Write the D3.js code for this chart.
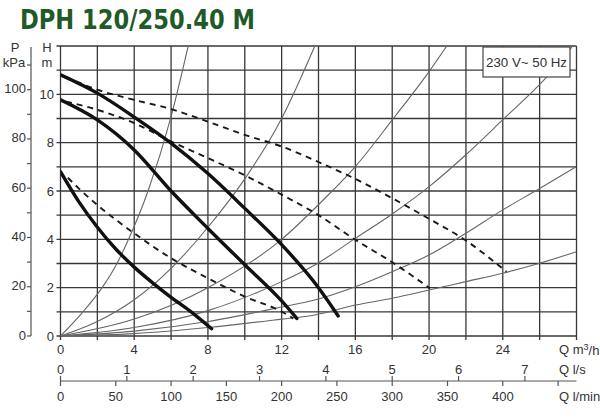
<!DOCTYPE html>
<html>
<head>
<meta charset="utf-8">
<script src="https://cdn.jsdelivr.net/npm/d3@7"></script>
<style>
  html, body { margin: 0; padding: 0; background: #fff; }
  svg { display: block; }
  text { font-family: "Liberation Sans", Arial, sans-serif; fill: #333; }
</style>
</head>
<body>
<svg id="chart" width="600" height="418"></svg>
<script>
// ---------- data ----------
const title = "DPH 120/250.40 M";
const legendText = "230 V~ 50 Hz";
const qTicks = [0, 4, 8, 12, 16, 20, 24];          // m3/h labels
const hTicks = [0, 2, 4, 6, 8, 10];                // m labels
const pTicks = [0, 20, 40, 60, 80, 100];           // kPa labels
const lsTicks = [0, 1, 2, 3, 4, 5, 6, 7];          // l/s
const lminTicks = [0, 50, 100, 150, 200, 250, 300, 350, 400]; // l/min labels
const lminExtraTicks = [450];

// pump curves (Q m3/h, H m) – solid thick
const pumpHigh = [[0,10.81],[2,10.05],[4,9.06],[6,7.98],[8,6.72],[10,5.28],[12,3.78],[14,2.0],[15.07,0.83]];
const pumpMid  = [[0,9.77],[2,8.94],[4,7.70],[6,6.0],[8,4.45],[10,2.95],[12,1.45],[12.82,0.73]];
const pumpLow  = [[0,6.8],[1,5.55],[2,4.5],[3,3.6],[4,2.85],[5,2.2],[6,1.6],[7,1.05],[8.2,0.3]];
// dashed curves
const dashHigh = [[0.3,10.72],[2,10.19],[4,9.77],[6,9.39],[8,8.87],[10,8.32],[12,7.84],[14,7.2],[16,6.5],[18,5.7],[20,4.85],[22,3.95],[24.2,2.66]];
const dashMid  = [[0.3,9.7],[2,9.36],[4,8.81],[6,8.05],[8,7.36],[10,6.65],[12,5.85],[14,5.0],[16,3.98],[18,3.05],[20.05,1.97]];
const dashLow  = [[0.4,6.55],[1,6.1],[2,5.42],[4,4.25],[6,3.22],[8,2.39],[10,1.63],[12,1.01],[12.63,0.73]];
// system curves – thin grey
const sysA = [[0,0],[1.15,0.94],[2.24,1.98],[3.05,2.98],[3.68,3.98],[4.76,6.02],[6,9.08],[6.93,12]];
const sysB = [[0,0],[2,0.6],[4,1.5],[6,2.8],[8,4.5],[10,6.5],[12,9.0],[13.8,12]];
const sysC = [[0,0],[4,0.7],[8,2.0],[12,4.0],[14.35,5.7],[16,7.01],[18,8.94],[20,10.94],[20.96,12]];
const sysD = [[0,0],[4,0.35],[8,1.05],[12,2.25],[13.8,2.94],[16,4.04],[18,5.05],[20,6.18],[22,7.5],[24,8.95],[26.3,10.65],[27.8,12]];
const sysE = [[0,0],[4,0.2],[8,0.6],[12,1.2],[13.8,1.49],[16,2.04],[18,2.66],[20,3.35],[22,4.25],[24,5.22],[26,6.1],[28,7.01]];
const sysF = [[0,0],[4,0.1],[8,0.35],[12,0.7],[13.8,0.87],[16,1.28],[18,1.56],[20,1.9],[22,2.25],[24,2.6],[26,3.01],[28,3.49]];

// ---------- scales ----------
const QMAX = 28, HMAX = 12;
const x = d3.scaleLinear().domain([0, QMAX]).range([60.5, 576.5]);
const y = d3.scaleLinear().domain([0, HMAX]).range([336, 46]);
const yP = d3.scaleLinear().domain([0, HMAX * 9.81]).range([336, 46]);
const xLs = d3.scaleLinear().domain([0, QMAX / 3.6]).range(x.range());
const xLmin = d3.scaleLinear().domain([0, QMAX * 1000 / 60]).range(x.range());

const svg = d3.select("#chart");
const gridColor = "#383838";

// title
svg.append("text")
  .attr("x", 20).attr("y", 29)
  .attr("textLength", 235).attr("lengthAdjust", "spacingAndGlyphs")
  .style("font-family", "'Liberation Sans Narrow','DejaVu Sans Condensed','Liberation Sans',sans-serif")
  .style("font-weight", "bold").style("font-size", "27px").style("fill", "#1f5a28")
  .text(title);

// grid
const grid = svg.append("g");
const hLines = d3.range(0, HMAX + 1, 1);
grid.selectAll("line.h").data(hLines).join("line")
  .attr("x1", x(0) - 4).attr("x2", x(QMAX))
  .attr("y1", d => y(d)).attr("y2", d => y(d))
  .attr("stroke", gridColor).attr("stroke-width", 1.3);
const vLines = d3.range(0, QMAX + 1, 2);
grid.selectAll("line.v").data(vLines).join("line")
  .attr("x1", d => x(d)).attr("x2", d => x(d))
  .attr("y1", y(HMAX)).attr("y2", y(0) + 4)
  .attr("stroke", gridColor).attr("stroke-width", 1.3);

// clip
svg.append("clipPath").attr("id", "plotclip")
  .append("rect").attr("x", x(0)).attr("y", y(HMAX)).attr("width", x(QMAX) - x(0)).attr("height", y(0) - y(HMAX));

const line = d3.line().x(d => x(d[0])).y(d => y(d[1])).curve(d3.curveMonotoneX);
const plot = svg.append("g").attr("clip-path", "url(#plotclip)");

[sysA, sysB, sysC, sysD, sysE, sysF].forEach(s => {
  plot.append("path").attr("d", line(s)).attr("fill", "none")
    .attr("stroke", "#666").attr("stroke-width", 1.1);
});
[dashHigh, dashMid, dashLow].forEach(s => {
  plot.append("path").attr("d", line(s)).attr("fill", "none")
    .attr("stroke", "#1a1a1a").attr("stroke-width", 1.9)
    .attr("stroke-dasharray", "6,5");
});
[pumpHigh, pumpMid, pumpLow].forEach(s => {
  plot.append("path").attr("d", line(s)).attr("fill", "none")
    .attr("stroke", "#111").attr("stroke-width", 3.4).attr("stroke-linecap", "round");
});

// legend box
const lg = svg.append("g");
lg.append("rect").attr("x", 483).attr("y", 47).attr("width", 87).attr("height", 30)
  .attr("fill", "#fff").attr("stroke", "#444").attr("stroke-width", 1.2);
lg.append("text").attr("x", 526.5).attr("y", 62).attr("dy", "0.35em")
  .attr("text-anchor", "middle").style("font-size", "13px")
  .attr("textLength", 81).attr("lengthAdjust", "spacingAndGlyphs")
  .text(legendText);

// H axis labels
const fs = "13px";
svg.selectAll("text.h").data(hTicks).join("text")
  .attr("x", 54).attr("y", d => y(d)).attr("dy", "0.35em")
  .attr("text-anchor", "end").style("font-size", fs).text(d => d);
svg.append("text").attr("x", 47).attr("y", 47).attr("dy", "0.35em").attr("text-anchor", "middle").style("font-size", fs).text("H");
svg.append("text").attr("x", 47).attr("y", 62).attr("dy", "0.35em").attr("text-anchor", "middle").style("font-size", fs).text("m");

// P axis
const pAxisX = 31;
svg.append("line").attr("x1", pAxisX).attr("x2", pAxisX).attr("y1", 47).attr("y2", yP(0))
  .attr("stroke", "#555").attr("stroke-width", 1.2);
svg.selectAll("line.p").data(d3.range(0, 111, 10)).join("line")
  .attr("x1", pAxisX - 4).attr("x2", pAxisX)
  .attr("y1", d => yP(d)).attr("y2", d => yP(d))
  .attr("stroke", "#555").attr("stroke-width", 1.2);
svg.selectAll("text.p").data(pTicks).join("text")
  .attr("x", 26).attr("y", d => yP(d) - 1).attr("dy", "0.35em")
  .attr("text-anchor", "end").style("font-size", fs).text(d => d);
svg.append("text").attr("x", 15).attr("y", 47).attr("dy", "0.35em").attr("text-anchor", "middle").style("font-size", fs).text("P");
svg.append("text").attr("x", 14).attr("y", 62).attr("dy", "0.35em").attr("text-anchor", "middle").style("font-size", fs).text("kPa");

// Q m3/h labels
svg.selectAll("text.q").data(qTicks).join("text")
  .attr("x", d => x(d)).attr("y", 349).attr("dy", "0.35em")
  .attr("text-anchor", "middle").style("font-size", fs).text(d => d);
const qm = svg.append("text").attr("x", 559).attr("y", 349).attr("dy", "0.35em").style("font-size", fs);
qm.append("tspan").text("Q m");
qm.append("tspan").attr("dy", "-0.4em").style("font-size", "9px").text("3");
qm.append("tspan").attr("dy", "0.4em").text("/h");

// secondary flow axis
const axY = 381;
svg.append("line").attr("x1", x(0)).attr("x2", x(QMAX)).attr("y1", axY).attr("y2", axY)
  .attr("stroke", "#555").attr("stroke-width", 1.2);
svg.selectAll("line.ls").data(lsTicks).join("line")
  .attr("x1", d => xLs(d)).attr("x2", d => xLs(d)).attr("y1", axY - 5).attr("y2", axY)
  .attr("stroke", "#555").attr("stroke-width", 1.2);
svg.selectAll("text.ls").data(lsTicks).join("text")
  .attr("x", d => xLs(d)).attr("y", 369).attr("dy", "0.35em")
  .attr("text-anchor", "middle").style("font-size", fs).text(d => d);
svg.selectAll("line.lm").data(lminTicks.concat(lminExtraTicks)).join("line")
  .attr("x1", d => xLmin(d)).attr("x2", d => xLmin(d)).attr("y1", axY).attr("y2", axY + 5)
  .attr("stroke", "#555").attr("stroke-width", 1.2);
svg.selectAll("text.lm").data(lminTicks).join("text")
  .attr("x", d => xLmin(d)).attr("y", 396).attr("dy", "0.35em")
  .attr("text-anchor", "middle").style("font-size", fs).text(d => d);
svg.append("text").attr("x", 559).attr("y", 369).attr("dy", "0.35em").style("font-size", fs).text("Q l/s");
svg.append("text").attr("x", 559).attr("y", 396).attr("dy", "0.35em").style("font-size", fs).text("Q l/min");
</script>
</body>
</html>
